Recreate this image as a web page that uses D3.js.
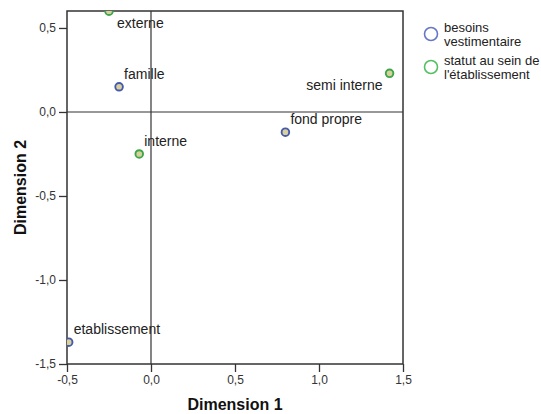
<!DOCTYPE html>
<html>
<head>
<meta charset="utf-8">
<script src="https://cdn.jsdelivr.net/npm/d3@7"></script>
<style>
  html, body { margin: 0; padding: 0; background: #fff; }
  svg { display: block; font-family: "Liberation Sans", Arial, sans-serif; }
</style>
</head>
<body>
<svg id="chart" width="541" height="414"></svg>
<script>
// Joint plot of category points (two variables)
const categories = ["famille", "fond propre", "etablissement", "externe", "interne", "semi interne"];
const variableOf = [0, 0, 0, 1, 1, 1];
const dimension1 = [-0.19, 0.80, -0.49, -0.25, -0.07, 1.42];
const dimension2 = [0.15, -0.12, -1.37, 0.60, -0.25, 0.23];
const variables = ["besoins vestimentaire", "statut au sein de l'établissement"];
const legendLines = [["besoins", "vestimentaire"], ["statut au sein de", "l'établissement"]];
const xTicks = [-0.5, 0.0, 0.5, 1.0, 1.5];
const yTicks = [-1.5, -1.0, -0.5, 0.0, 0.5];
// where each label sits relative to its point
const labelSide = ["above", "above", "above", "below", "above", "belowLeft"];

const strokeColors = ["#4659ad", "#3aa748"];
const legendColors = ["#6677c4", "#55c062"];
const pointFill = "#d8d19c";

const svg = d3.select("#chart");
const plot = { left: 67, right: 403, top: 11, bottom: 364 };

const x = d3.scaleLinear().domain([-0.5, 1.5]).range([plot.left, plot.right]);
const y = d3.scaleLinear().domain([-1.5, 0.601]).range([plot.bottom, plot.top]);

// decimal comma and plain hyphen for negatives
const fmt = v => (v < 0 ? "-" : "") + d3.format(".1f")(Math.abs(v)).replace(".", ",");

// axes
const xAxis = svg.append("g")
  .attr("transform", `translate(0,${plot.bottom})`)
  .call(d3.axisBottom(x).tickValues(xTicks).tickFormat(fmt).tickSize(8).tickPadding(3));
const yAxis = svg.append("g")
  .attr("transform", `translate(${plot.left},0)`)
  .call(d3.axisLeft(y).tickValues(yTicks).tickFormat(fmt).tickSize(8).tickPadding(3));
[xAxis, yAxis].forEach(g => {
  g.select(".domain").remove();
  g.selectAll(".tick line").attr("stroke", "#333").attr("stroke-width", 1.3);
  g.selectAll(".tick text").attr("fill", "#333").style("font-size", "12px")
    .style("font-family", "'Liberation Sans', Arial, sans-serif");
});

// reference lines through the origin
svg.append("line")
  .attr("x1", x(0)).attr("x2", x(0)).attr("y1", plot.top).attr("y2", plot.bottom)
  .attr("stroke", "#333").attr("stroke-width", 1.2);
svg.append("line")
  .attr("x1", plot.left).attr("x2", plot.right).attr("y1", y(0)).attr("y2", y(0))
  .attr("stroke", "#333").attr("stroke-width", 1.2);

// frame
svg.append("rect")
  .attr("x", plot.left).attr("y", plot.top)
  .attr("width", plot.right - plot.left).attr("height", plot.bottom - plot.top)
  .attr("fill", "none").attr("stroke", "#333").attr("stroke-width", 1.5);

// points, clipped to the plot area
svg.append("clipPath").attr("id", "plotClip")
  .append("rect")
  .attr("x", plot.left).attr("y", plot.top)
  .attr("width", plot.right - plot.left).attr("height", plot.bottom - plot.top);

svg.append("g").attr("clip-path", "url(#plotClip)")
  .selectAll("circle")
  .data(categories)
  .join("circle")
  .attr("cx", (d, i) => x(dimension1[i]))
  .attr("cy", (d, i) => y(dimension2[i]))
  .attr("r", 3.8)
  .attr("fill", pointFill)
  .attr("stroke", (d, i) => strokeColors[variableOf[i]])
  .attr("stroke-width", 1.9);

// point labels
svg.append("g")
  .selectAll("text")
  .data(categories)
  .join("text")
  .attr("x", (d, i) => x(dimension1[i]) + (labelSide[i] === "belowLeft" ? -7 : labelSide[i] === "below" ? 8 : 5))
  .attr("y", (d, i) => y(dimension2[i]) + (labelSide[i] === "above" ? -8 : 17))
  .attr("text-anchor", (d, i) => labelSide[i] === "belowLeft" ? "end" : "start")
  .attr("fill", "#222")
  .style("font-size", "14px")
  .text(d => d);

// axis titles
svg.append("text")
  .attr("x", (plot.left + plot.right) / 2).attr("y", 410)
  .attr("text-anchor", "middle").attr("fill", "#111")
  .style("font-size", "16px").style("font-weight", "bold")
  .text("Dimension 1");
svg.append("text")
  .attr("transform", `translate(26,${(plot.top + plot.bottom) / 2}) rotate(-90)`)
  .attr("text-anchor", "middle").attr("fill", "#111")
  .style("font-size", "16px").style("font-weight", "bold")
  .text("Dimension 2");

// legend
const legend = svg.append("g").selectAll("g")
  .data(variables)
  .join("g")
  .attr("transform", (d, i) => `translate(431,${34 + i * 33})`);
legend.append("circle")
  .attr("r", 6.5).attr("fill", "none")
  .attr("stroke", (d, i) => legendColors[i]).attr("stroke-width", 1.6);
legend.append("text")
  .attr("x", 13).attr("y", -2)
  .attr("fill", "#222").style("font-size", "13px")
  .selectAll("tspan")
  .data((d, i) => legendLines[i])
  .join("tspan")
  .attr("x", 13).attr("dy", (d, j) => j === 0 ? 0 : 13.5)
  .text(d => d);
</script>
</body>
</html>
